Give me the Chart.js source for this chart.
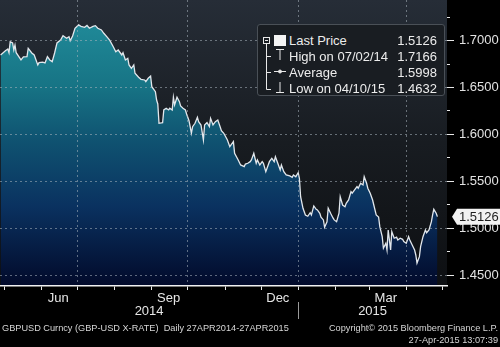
<!DOCTYPE html>
<html>
<head>
<meta charset="utf-8">
<script src="https://cdn.jsdelivr.net/npm/chart.js@4.4.0/dist/chart.umd.min.js"></script>
<style>
  body { margin: 0; background: #000; }
  #wrap { position: relative; width: 500px; height: 347px; overflow: hidden;
          font-family: "Liberation Sans", Arial, sans-serif; color: #ececec; }
  #chart { position: absolute; left: 0; top: 0; }
  #legend { position: absolute; left: 257px; top: 24px; width: 186px; height: 70px;
            background: #191d22; border: 1px solid #4a5057; border-radius: 3px;
            font-size: 13px; line-height: 16px; }
  #legend svg { position: absolute; left: 0; top: 0; }
  .row { position: absolute; left: 31px; right: 7px; height: 16px; white-space: nowrap; }
  .row .val { position: absolute; right: 0; top: 0; }
  .foot { position: absolute; font-size: 9.2px; line-height: 12px; color: #d6d6d6; white-space: nowrap; }
</style>
</head>
<body>
<div id="wrap">
  <canvas id="chart" width="500" height="347"></canvas>
  <div id="legend">
    <svg width="30" height="70" stroke="#e8e8e8" fill="none" stroke-width="1">
      <rect x="5.5" y="12.5" width="6" height="6"></rect>
      <line x1="7" y1="15.5" x2="10" y2="15.5"></line>
      <line x1="8.5" y1="18.5" x2="8.5" y2="64.5"></line>
      <line x1="8.5" y1="31.5" x2="13" y2="31.5"></line>
      <line x1="8.5" y1="47.5" x2="13" y2="47.5"></line>
      <line x1="8.5" y1="64.5" x2="13" y2="64.5"></line>
      <rect x="16" y="10" width="12" height="11" fill="#f4f4f4" stroke="none"></rect>
      <line x1="18" y1="24.5" x2="26" y2="24.5"></line>
      <line x1="22" y1="24.5" x2="22" y2="35"></line>
      <line x1="16" y1="46.5" x2="28" y2="46.5"></line>
      <circle cx="22" cy="46.5" r="1.5" fill="#e8e8e8"></circle>
      <line x1="22" y1="57" x2="22" y2="67.5"></line>
      <line x1="18" y1="67.5" x2="26" y2="67.5"></line>
    </svg>
    <div class="row" style="top:8px"><span>Last Price</span><span class="val" id="v-last"></span></div>
    <div class="row" style="top:24px"><span id="t-high"></span><span class="val" id="v-high"></span></div>
    <div class="row" style="top:40px"><span>Average</span><span class="val" id="v-avg"></span></div>
    <div class="row" style="top:56px"><span id="t-low"></span><span class="val" id="v-low"></span></div>
  </div>
  <div class="foot" style="left:2px; top:322px">GBPUSD Curncy (GBP-USD X-RATE)&nbsp; Daily 27APR2014-27APR2015</div>
  <div class="foot" style="right:2px; top:322px; text-align:right">Copyright© 2015 Bloomberg Finance L.P.</div>
  <div class="foot" style="right:2px; top:334px; text-align:right">27-Apr-2015 13:07:39</div>
</div>
<script>
// GBPUSD daily close, day offsets counted from 27 Apr 2014
const days = [
  1, 5, 7, 8, 9, 11, 12, 13, 14, 18,
  20, 23, 24, 27, 29, 32, 33, 36, 38, 40,
  42, 44, 46, 48, 51, 53, 56, 58, 59, 61,
  63, 66, 68, 71, 73, 75, 78, 80, 82, 85,
  87, 90, 92, 95, 97, 99, 102, 103, 105, 107,
  108, 110, 112, 113, 116, 118, 121, 122, 124, 126,
  127, 130, 131, 132, 133, 136, 137, 139, 141, 142,
  144, 145, 146, 148, 150, 151, 153, 155, 156, 158,
  160, 161, 163, 165, 166, 168, 170, 171, 173, 175,
  176, 178, 180, 182, 184, 185, 187, 190, 192, 195,
  196, 199, 201, 204, 205, 207, 209, 210, 212, 214,
  215, 217, 219, 220, 222, 224, 225, 227, 229, 230,
  232, 234, 235, 237, 239, 242, 244, 245, 247, 249,
  250, 251, 253, 255, 257, 259, 260, 262, 264, 265,
  267, 268, 270, 271, 273, 274, 276, 278, 279, 281,
  283, 284, 286, 288, 289, 291, 293, 294, 296, 298,
  299, 301, 303, 304, 306, 307, 309, 311, 312, 314,
  316, 317, 319, 320, 322, 323, 324, 326, 327, 329,
  331, 332, 334, 336, 337, 339, 341, 342, 344, 346,
  347, 348, 350, 351, 353, 355, 356, 358, 360, 361,
  362, 364, 365
];
const rates = [
  1.6846, 1.6892, 1.6910, 1.6870, 1.6987, 1.6974, 1.6899, 1.6952, 1.6870, 1.6793,
  1.6825, 1.6828, 1.6917, 1.6867, 1.6846, 1.6740, 1.6764, 1.6770, 1.6761, 1.6828,
  1.6793, 1.6775, 1.6867, 1.6974, 1.7005, 1.7051, 1.7024, 1.7041, 1.6998, 1.7048,
  1.7130, 1.7166, 1.7150, 1.7140, 1.7160, 1.7130, 1.7150, 1.7158, 1.7130, 1.7112,
  1.7077, 1.7034, 1.7002, 1.6931, 1.6881, 1.6899, 1.6846, 1.6870, 1.6793, 1.6811,
  1.6740, 1.6704, 1.6740, 1.6651, 1.6609, 1.6587, 1.6580, 1.6562, 1.6598, 1.6622,
  1.6509, 1.6455, 1.6367, 1.6325, 1.6119, 1.6125, 1.6261, 1.6279, 1.6261, 1.6279,
  1.6261, 1.6396, 1.6314, 1.6396, 1.6349, 1.6303, 1.6279, 1.6261, 1.6218, 1.6147,
  1.6013, 1.6083, 1.6119, 1.6183, 1.6136, 1.6101, 1.5942, 1.6101, 1.6126, 1.6083,
  1.6172, 1.6101, 1.6136, 1.6154, 1.6080, 1.6041, 1.6013, 1.5942, 1.5870, 1.5924,
  1.5800, 1.5729, 1.5676, 1.5658, 1.5686, 1.5694, 1.5711, 1.5729, 1.5800, 1.5694,
  1.5729, 1.5676, 1.5711, 1.5694, 1.5604, 1.5676, 1.5711, 1.5747, 1.5711, 1.5764,
  1.5694, 1.5622, 1.5676, 1.5604, 1.5569, 1.5559, 1.5545, 1.5569, 1.5551, 1.5594,
  1.5534, 1.5338, 1.5215, 1.5144, 1.5130, 1.5168, 1.5144, 1.5240, 1.5204, 1.5197,
  1.5162, 1.5120, 1.5091, 1.5013, 1.5072, 1.5215, 1.5162, 1.5112, 1.5091, 1.5072,
  1.5162, 1.5338, 1.5250, 1.5232, 1.5268, 1.5303, 1.5392, 1.5375, 1.5410, 1.5445,
  1.5428, 1.5481, 1.5463, 1.5551, 1.5481, 1.5428, 1.5375, 1.5303, 1.5250, 1.5144,
  1.5122, 1.5019, 1.4913, 1.4790, 1.4843, 1.4771, 1.4984, 1.4771, 1.4966, 1.4896,
  1.4907, 1.4878, 1.4896, 1.4885, 1.4860, 1.4843, 1.4913, 1.4878, 1.4825, 1.4771,
  1.4718, 1.4632, 1.4700, 1.4807, 1.4913, 1.4984, 1.4955, 1.4984, 1.5072, 1.5144,
  1.5204, 1.5162, 1.5126
];
const avgRate = 1.5998;

// axis ticks (day offsets / rates)
const monthStartDays = [4, 35, 65, 96, 127, 157, 188, 218, 249, 280, 308, 339, 369];
const quarterStartDays = [65, 157, 249, 339];
const monthLabels = ['Jun', 'Sep', 'Dec', 'Mar'];
const monthLabelDays = [49, 141, 232, 322];
const yearLabels = ['2014', '2015'];
const yearStartDay = 249;
const yLabelTicks = [1.45, 1.50, 1.55, 1.60, 1.65, 1.70];
const yMinorTicks = [1.475, 1.525, 1.575, 1.625, 1.675, 1.725];

const FONT = '"Liberation Sans", Arial, sans-serif';
const GRID = 'rgba(170,180,190,0.55)';

function dayToDate(d) {
  const dt = new Date(2014, 3, 27 + d);
  const p = n => String(n).padStart(2, '0');
  return p(dt.getMonth() + 1) + '/' + p(dt.getDate()) + '/' + String(dt.getFullYear()).slice(2);
}

// legend box
const hiIdx = rates.indexOf(Math.max(...rates));
const loIdx = rates.indexOf(Math.min(...rates));
const lastRate = rates[rates.length - 1];
document.getElementById('v-last').textContent = lastRate.toFixed(4);
document.getElementById('t-high').textContent = 'High on ' + dayToDate(days[hiIdx]);
document.getElementById('v-high').textContent = rates[hiIdx].toFixed(4);
document.getElementById('v-avg').textContent = avgRate.toFixed(4);
document.getElementById('t-low').textContent = 'Low on ' + dayToDate(days[loIdx]);
document.getElementById('v-low').textContent = rates[loIdx].toFixed(4);

const isYLabel = v => yLabelTicks.some(t => Math.abs(t - v) < 1e-6);

// dark slate backdrop behind the plot
const plotBackground = {
  id: 'plotBackground',
  beforeDraw(chart) {
    const {ctx, chartArea: a} = chart;
    const g = ctx.createLinearGradient(0, a.top, 0, a.bottom);
    g.addColorStop(0, '#262d37');
    g.addColorStop(0.5, '#181c21');
    g.addColorStop(1, '#0d0f12');
    ctx.save();
    ctx.fillStyle = g;
    ctx.fillRect(a.left, a.top, a.right - a.left, a.bottom - a.top);
    ctx.restore();
  }
};

// year row under the month labels, split at 1 Jan
const yearRow = {
  id: 'yearRow',
  afterDraw(chart) {
    const {ctx, chartArea: a, scales: {x}} = chart;
    const sep = x.getPixelForValue(yearStartDay);
    const centers = [(a.left + sep) / 2, (sep + a.right) / 2];
    ctx.save();
    ctx.fillStyle = '#e6e6e6';
    ctx.font = '13px ' + FONT;
    ctx.textAlign = 'center';
    ctx.textBaseline = 'middle';
    yearLabels.forEach((lbl, i) => ctx.fillText(lbl, centers[i], a.bottom + 25));
    ctx.strokeStyle = '#9a9a9a';
    ctx.lineWidth = 1;
    ctx.beginPath();
    ctx.moveTo(Math.round(sep) + 0.5, a.bottom + 16);
    ctx.lineTo(Math.round(sep) + 0.5, a.bottom + 33);
    ctx.stroke();
    ctx.restore();
  }
};

// last price tag on the value axis
const lastTag = {
  id: 'lastTag',
  afterDraw(chart) {
    const {ctx, chartArea: a, scales: {y}} = chart;
    const py = y.getPixelForValue(lastRate);
    const x0 = a.right + 5;
    ctx.save();
    ctx.fillStyle = '#f2f2f2';
    ctx.beginPath();
    ctx.moveTo(x0, py);
    ctx.lineTo(x0 + 5, py - 8);
    ctx.lineTo(chart.width, py - 8);
    ctx.lineTo(chart.width, py + 8);
    ctx.lineTo(x0 + 5, py + 8);
    ctx.closePath();
    ctx.fill();
    ctx.fillStyle = '#1e1e1e';
    ctx.font = '13px ' + FONT;
    ctx.textBaseline = 'middle';
    ctx.fillText(lastRate.toFixed(4), x0 + 7, py + 1);
    ctx.restore();
  }
};

const chart = new Chart(document.getElementById('chart'), {
  type: 'line',
  data: {
    datasets: [{
      data: days.map((d, i) => ({x: d, y: rates[i]})),
      borderColor: '#e2e7ec',
      borderWidth: 1.3,
      pointRadius: 0,
      tension: 0,
      fill: 'start',
      backgroundColor: (c) => {
        const a = c.chart.chartArea;
        if (!a) return '#1b7f90';
        const g = c.chart.ctx.createLinearGradient(0, a.top, 0, a.bottom);
        g.addColorStop(0, '#23919f');
        g.addColorStop(0.3, '#177485');
        g.addColorStop(0.5, '#0f5170');
        g.addColorStop(0.72, '#0a3260');
        g.addColorStop(1, '#020a2a');
        return g;
      }
    }]
  },
  options: {
    responsive: false,
    animation: false,
    devicePixelRatio: 1,
    layout: { padding: 0 },
    plugins: { legend: { display: false }, tooltip: { enabled: false } },
    scales: {
      x: {
        type: 'linear',
        min: 0.5,
        max: 373,
        afterBuildTicks: s => {
          const vals = [...monthStartDays, ...monthLabelDays].sort((p, q) => p - q);
          s.ticks = vals.map(v => ({value: v}));
        },
        afterFit: s => { s.height = 61; s.paddingLeft = 0; s.paddingRight = 0; },
        ticks: {
          autoSkip: false,
          maxRotation: 0,
          padding: 1,
          color: '#e6e6e6',
          font: { family: FONT, size: 13 },
          callback: v => {
            const i = monthLabelDays.indexOf(v);
            return i >= 0 ? monthLabels[i] : '';
          }
        },
        grid: {
          z: 1,
          lineWidth: 1,
          tickLength: 4,
          color: c => quarterStartDays.includes(c.tick && c.tick.value) ? GRID : 'transparent',
          tickColor: c => monthStartDays.includes(c.tick && c.tick.value) ? '#e8e8e8' : 'transparent'
        },
        border: { color: '#f0f0f0', width: 1.5, dash: [2, 3], z: 2 }
      },
      y: {
        position: 'right',
        min: 1.4388,
        max: 1.7431,
        afterBuildTicks: s => {
          const vals = [...yLabelTicks, ...yMinorTicks].sort((p, q) => p - q);
          s.ticks = vals.map(v => ({value: v}));
        },
        afterFit: s => { s.width = 53; s.paddingTop = 0; s.paddingBottom = 0; },
        ticks: {
          autoSkip: false,
          padding: 5,
          color: '#e2e2e2',
          font: { family: FONT, size: 13 },
          callback: v => isYLabel(v) ? v.toFixed(4) : ''
        },
        grid: {
          z: 1,
          lineWidth: 1,
          tickLength: 7,
          color: c => (c.tick && isYLabel(c.tick.value)) ? GRID : 'transparent',
          tickColor: '#e8e8e8',
          tickBorderDash: c => (c.tick && isYLabel(c.tick.value)) ? [] : [3, 20]
        },
        border: { display: false, dash: [2, 3] }
      }
    }
  },
  plugins: [plotBackground, yearRow, lastTag]
});
</script>
</body>
</html>
